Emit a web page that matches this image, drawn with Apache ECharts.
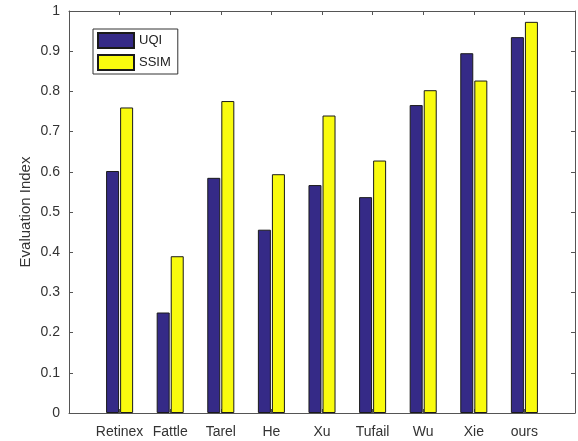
<!DOCTYPE html>
<html>
<head>
<meta charset="utf-8">
<script src="https://cdn.jsdelivr.net/npm/echarts@6/dist/echarts.min.js"></script>
<style>
  html, body { margin: 0; padding: 0; background: #fff; }
  #chart { width: 578px; height: 441px; }
</style>
</head>
<body>
<div id="chart"></div>
<script>
// Methods compared, in axis order (placed at x = 1..9 on a 0..10 axis)
const categories = ['Retinex', 'Fattle', 'Tarel', 'He', 'Xu', 'Tufail', 'Wu', 'Xie', 'ours'];
const uqiValues  = [0.602, 0.250, 0.585, 0.456, 0.567, 0.537, 0.766, 0.895, 0.935];
const ssimValues = [0.760, 0.390, 0.776, 0.594, 0.740, 0.628, 0.803, 0.827, 0.973];
const yTicks = [0, 0.1, 0.2, 0.3, 0.4, 0.5, 0.6, 0.7, 0.8, 0.9, 1];

const axisColor = '#555';
const textColor = '#333';
const fontFamily = 'Liberation Sans, Arial, sans-serif';

const toPoints = vals => vals.map((v, i) => [i + 1, v]);

// Fresh style objects for each axis of the boxed frame
const tickStyle = () => ({ show: true, inside: true, length: 4, lineStyle: { color: axisColor, width: 1 } });
const lineStyle = () => ({ show: true, onZero: false, lineStyle: { color: axisColor, width: 1 } });

const chart = echarts.init(document.getElementById('chart'), null, { renderer: 'canvas' });

chart.setOption({
  animation: false,
  backgroundColor: '#fff',
  grid: { left: 69, right: 2, top: 11, bottom: 28, containLabel: false },
  legend: {
    orient: 'vertical',
    left: 93,
    top: 29,
    padding: [3, 7, 3, 4],
    itemGap: 5,
    itemWidth: 36,
    itemHeight: 15,
    icon: 'rect',
    borderColor: '#333',
    borderWidth: 1,
    backgroundColor: '#fff',
    textStyle: { color: '#222', fontSize: 13, fontFamily: fontFamily },
    data: ['UQI', 'SSIM']
  },
  xAxis: [
    {
      type: 'value', position: 'bottom', min: 0, max: 10, interval: 1,
      splitLine: { show: false },
      axisLine: lineStyle(),
      axisTick: tickStyle(),
      axisLabel: {
        color: textColor, fontSize: 14, fontFamily: fontFamily, margin: 12,
        formatter: v => (v >= 1 && v <= categories.length) ? categories[v - 1] : ''
      }
    },
    {
      type: 'value', position: 'top', min: 0, max: 10, interval: 1,
      splitLine: { show: false },
      axisLine: lineStyle(),
      axisTick: tickStyle(),
      axisLabel: { show: false }
    }
  ],
  yAxis: [
    {
      type: 'value', position: 'left', min: yTicks[0], max: yTicks[yTicks.length - 1], interval: 0.1,
      name: 'Evaluation Index',
      nameLocation: 'middle',
      nameGap: 36,
      nameMoveOverlap: false,
      nameTextStyle: { color: textColor, fontSize: 15, fontFamily: fontFamily },
      splitLine: { show: false },
      axisLine: lineStyle(),
      axisTick: tickStyle(),
      axisLabel: {
        color: textColor, fontSize: 14, fontFamily: fontFamily, margin: 9,
        formatter: v => String(Math.round(v * 10) / 10)
      }
    },
    {
      type: 'value', position: 'right', min: 0, max: 1, interval: 0.1,
      splitLine: { show: false },
      axisLine: lineStyle(),
      axisTick: tickStyle(),
      axisLabel: { show: false }
    }
  ],
  series: [
    {
      name: 'UQI', type: 'bar', xAxisIndex: 0, yAxisIndex: 0,
      barWidth: 13, barGap: '8%',
      itemStyle: { color: '#352a87', borderColor: '#1a1a1a', borderWidth: 1 },
      data: toPoints(uqiValues)
    },
    {
      name: 'SSIM', type: 'bar', xAxisIndex: 0, yAxisIndex: 0,
      barWidth: 13, barGap: '8%',
      itemStyle: { color: '#f9fb0e', borderColor: '#1a1a1a', borderWidth: 1 },
      data: toPoints(ssimValues)
    }
  ]
});
</script>
</body>
</html>
